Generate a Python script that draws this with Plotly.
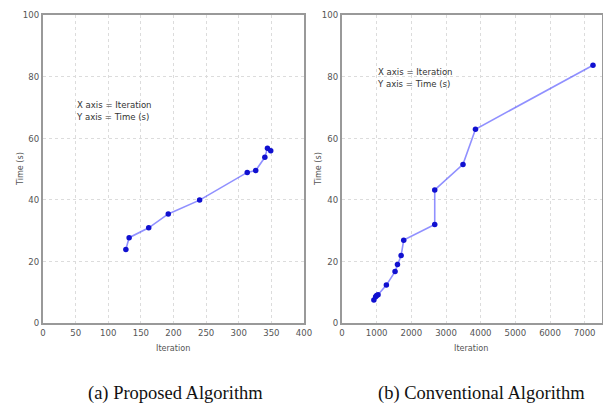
import plotly.graph_objects as go

# Proposed algorithm
prop_iter = [127, 132, 162, 192, 240, 313, 326, 340, 344, 349]
prop_time = [23.9, 27.7, 30.9, 35.4, 39.9, 48.9, 49.5, 53.8, 56.7, 55.9]

# Conventional algorithm
conv_iter = [920, 970, 1000, 1040, 1280, 1530, 1600, 1705, 1780, 2675, 2675, 3490, 3850, 7240]
conv_time = [7.5, 8.5, 8.9, 9.2, 12.3, 16.7, 19.0, 21.9, 26.9, 32.0, 43.2, 51.5, 62.9, 83.7]

left_xticks = [0, 50, 100, 150, 200, 250, 300, 350, 400]
right_xticks = [0, 1000, 2000, 3000, 4000, 5000, 6000, 7000]
yticks = [0, 20, 40, 60, 80, 100]

captions = ["(a) Proposed Algorithm", "(b) Conventional Algorithm"]
note = "X axis = Iteration<br>Y axis = Time (s)"

W, H = 603, 405
fig = go.Figure()

line_col = "rgba(70,70,255,0.6)"
mk_col = "#1010d0"
cond = "DejaVu Sans Condensed, Liberation Sans Narrow, sans-serif"
tick_font = dict(family=cond, size=9.5, color="#555")

fig.add_trace(go.Scatter(x=prop_iter, y=prop_time, mode="lines+markers",
                         line=dict(color=line_col, width=1.6),
                         marker=dict(color=mk_col, size=5.5),
                         xaxis="x", yaxis="y", showlegend=False))
fig.add_trace(go.Scatter(x=conv_iter, y=conv_time, mode="lines+markers",
                         line=dict(color=line_col, width=1.6),
                         marker=dict(color=mk_col, size=5.5),
                         xaxis="x2", yaxis="y2", showlegend=False))

ax_common = dict(showline=True, linecolor="#999", linewidth=2, mirror=True,
                 showgrid=True, gridcolor="#dcdcdc", griddash="dot", gridwidth=1,
                 zeroline=False, ticks="", tickfont=tick_font, automargin=False)

ytop = 1 - 15 / H
ybot = 1 - 323 / H
fig.update_layout(
    width=W, height=H, margin=dict(l=0, r=0, t=0, b=0, autoexpand=False),
    paper_bgcolor="white", plot_bgcolor="white",
    xaxis=dict(domain=[43 / W, 304 / W], range=[0, 400], tickvals=left_xticks,
               anchor="y", **ax_common),
    yaxis=dict(domain=[ybot, ytop], range=[0, 100], tickvals=yticks, anchor="x", **ax_common),
    xaxis2=dict(domain=[342 / W, 602 / W], range=[0, 7500], tickvals=right_xticks,
                anchor="y2", **ax_common),
    yaxis2=dict(domain=[ybot, ytop], range=[0, 100], tickvals=yticks, anchor="x2", **ax_common),
)

lab_font = dict(family=cond, size=9, color="#555")
note_font = dict(family=cond, size=9.5, color="#333")
cap_font = dict(family="Liberation Serif, Times New Roman, serif", size=18.5, color="#111")

ann = []
# axis titles
for cx in [173 / W, 471 / W]:
    ann.append(dict(x=cx, y=1 - 348 / H, xref="paper", yref="paper", text="Iteration",
                    showarrow=False, font=lab_font, xanchor="center", yanchor="middle"))
for cx in [20 / W, 318 / W]:
    ann.append(dict(x=cx, y=1 - 169 / H, xref="paper", yref="paper", text="Time (s)",
                    showarrow=False, font=lab_font, textangle=-90, xanchor="center", yanchor="middle"))
# notes
ann.append(dict(x=74 / W, y=1 - 97 / H, xref="paper", yref="paper", text=note, align="left",
                showarrow=False, font=note_font, xanchor="left", yanchor="top"))
ann.append(dict(x=375 / W, y=1 - 64 / H, xref="paper", yref="paper", text=note, align="left",
                showarrow=False, font=note_font, xanchor="left", yanchor="top"))
# captions
ann.append(dict(x=175 / W, y=1 - 393 / H, xref="paper", yref="paper", text=captions[0],
                showarrow=False, font=cap_font, xanchor="center", yanchor="middle"))
ann.append(dict(x=481 / W, y=1 - 393 / H, xref="paper", yref="paper", text=captions[1],
                showarrow=False, font=cap_font, xanchor="center", yanchor="middle"))
fig.update_layout(annotations=ann)

fig.write_html("out.html", config={"displayModeBar": False},
               post_script="document.body.style.margin='0';document.body.style.overflow='hidden';")
